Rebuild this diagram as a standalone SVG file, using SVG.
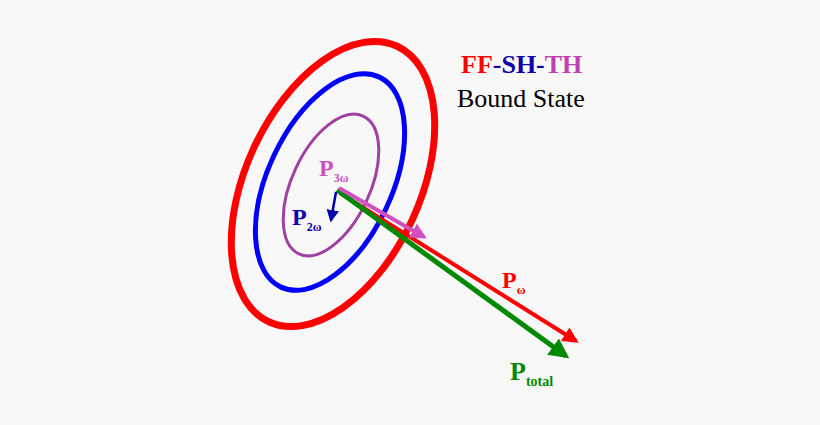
<svg xmlns="http://www.w3.org/2000/svg" width="820" height="425" viewBox="0 0 820 425">
<style>
.t{font-family:"Liberation Serif",serif;font-weight:bold}
.n{font-family:"Liberation Serif",serif;font-weight:normal}
.e{fill:none}
</style>
<defs>
<marker id="ar" viewBox="0 0 10 10" refX="8" refY="5" markerWidth="4" markerHeight="4" orient="auto"><path d="M0,0L10,5L0,10z" fill="#f00"/></marker>
<marker id="ag" viewBox="0 0 10 10" refX="8" refY="5" markerWidth="4" markerHeight="4" orient="auto"><path d="M0,0L10,5L0,10z" fill="#080"/></marker>
<marker id="ap" viewBox="0 0 10 10" refX="8" refY="5" markerWidth="4" markerHeight="4" orient="auto"><path d="M0,0L10,5L0,10z" fill="#d050c0"/></marker>
<marker id="ab" viewBox="0 0 10 10" refX="8" refY="5" markerWidth="5" markerHeight="5" orient="auto"><path d="M0,0L10,5L0,10z" fill="#00a"/></marker>
</defs>
<rect width="820" height="425" fill="#f8f8f8"/>
<g id="red-orbit"><ellipse class="e" cx="333" cy="184" rx="87" ry="152" transform="rotate(25 333 184)" stroke="#f00" stroke-width="7"/></g>
<g id="blue-orbit"><ellipse class="e" cx="330" cy="182" rx="62" ry="116" transform="rotate(25 330 182)" stroke="#00f" stroke-width="5"/></g>
<g id="purple-orbit"><ellipse class="e" cx="331" cy="185" rx="39" ry="76" transform="rotate(25 331 185)" stroke="#a040a0" stroke-width="3"/></g>
<g id="connectors">
<line x1="340" y1="193" x2="576" y2="341" stroke="#f00" stroke-width="4" marker-end="url(#ar)"/>
<line x1="337" y1="190" x2="566" y2="356" stroke="#080" stroke-width="5" marker-end="url(#ag)"/>
<line x1="339" y1="188" x2="424" y2="237" stroke="#d050c0" stroke-width="4" marker-end="url(#ap)"/>
<line x1="336" y1="192" x2="331" y2="220" stroke="#00a" stroke-width="2.5" marker-end="url(#ab)"/>
</g>
<g id="labels">
<text class="t" x="461" y="73" font-size="26" fill="#f00">FF<tspan fill="#10a">-SH-</tspan><tspan fill="#c040b0">TH</tspan></text>
<text class="n" x="457" y="107" font-size="26" fill="#000">Bound State</text>
<text class="t" x="319" y="176" font-size="24" fill="#d050c0">P<tspan font-size="12" dy="6">3ω</tspan></text>
<text class="t" x="292" y="225" font-size="24" fill="#10a">P<tspan font-size="12" dy="6">2ω</tspan></text>
<text class="t" x="502" y="288" font-size="24" fill="#f00">P<tspan font-size="12" dy="6">ω</tspan></text>
<text class="t" x="510" y="380" font-size="26" fill="#080">P<tspan font-size="14" dy="6">total</tspan></text>
</g>
</svg>
